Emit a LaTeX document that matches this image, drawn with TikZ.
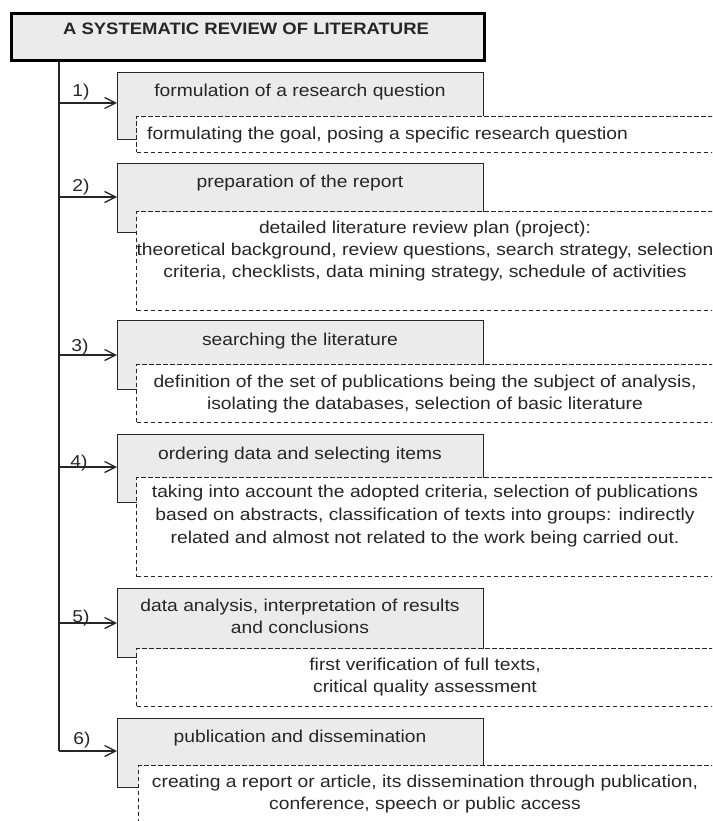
\documentclass[tikz,border=0pt]{standalone}
\usepackage{fontspec}
\setmainfont{Liberation Sans}[FakeStretch=1.12]
\usetikzlibrary{arrows.meta}
\definecolor{boxfill}{RGB}{235,235,235}
\definecolor{ink}{RGB}{38,38,38}

\begin{document}
\begin{tikzpicture}[x=1pt, y=-1pt, >={Straight Barb[length=11pt, width=11pt]},
	every node/.style={inner sep=0pt, text=ink, font=\fontsize{17.2}{22}\selectfont},
	titlebox/.style={draw=black, line width=2.6pt, fill=boxfill, anchor=north west,
		minimum width=473pt, minimum height=47pt},
	stepbox/.style={draw=ink, line width=1.3pt, fill=boxfill, anchor=north west,
		minimum width=366pt},
	notebox/.style={draw=ink, line width=1pt, dash pattern=on 4.5pt off 2.5pt,
		fill=white, anchor=north west, minimum width=620pt},
	link/.style={draw=ink, line width=1.3pt}]
	\def\trunk{59}		% x of the vertical line
	\def\boxl{117}		% left side of the grey boxes
	\def\notel{136}		% left side of the dashed boxes
	\def\midbox{300}	% centre of the grey boxes
	\def\midnote{425}	% centre of the dashed texts
	% (multi-line texts: base = baseline of the last line)

	% Page
	\clip (0,0) rectangle (712,821);

	% Title
	\node[titlebox] (title) at (10,12) {};
	\node[anchor=base, font=\fontsize{16.5}{20}\selectfont\bfseries] (titletext)
		at (246,35) {A SYSTEMATIC REVIEW OF LITERATURE};

	% Step 1
	\node[stepbox, minimum height=67pt] (s1) at (\boxl,72) {};
	\node[notebox, minimum height=36pt] (d1) at (\notel,116) {};
	\node[anchor=base] (s1text) at (\midbox,97) {formulation of a research question};
	\node[anchor=base west] (d1text) at (147,140)
		{formulating the goal, posing a specific research question};

	% Step 2
	\node[stepbox, minimum height=69pt] (s2) at (\boxl,163) {};
	\node[notebox, minimum height=99pt] (d2) at (\notel,211) {};
	\node[anchor=base] (s2text) at (\midbox,188) {preparation of the report};
	\node[anchor=base, align=center] (d2text) at (\midnote,277)
		{detailed literature review plan (project):\\
		theoretical background, review questions, search strategy, selection\\
		criteria, checklists, data mining strategy, schedule of activities};

	% Step 3
	\node[stepbox, minimum height=69pt] (s3) at (\boxl,320) {};
	\node[notebox, minimum height=58pt] (d3) at (\notel,364) {};
	\node[anchor=base] (s3text) at (\midbox,345) {searching the literature};
	\node[anchor=base, align=center] (d3text) at (\midnote,409)
		{definition of the set of publications being the subject of analysis,\\
		isolating the databases, selection of basic literature};

	% Step 4
	\node[stepbox, minimum height=68pt] (s4) at (\boxl,434) {};
	\node[notebox, minimum height=99pt] (d4) at (\notel,477) {};
	\node[anchor=base] (s4text) at (\midbox,459) {ordering data and selecting items};
	\node[anchor=base, align=center, font=\fontsize{17.2}{23}\selectfont] (d4text)
		at (\midnote,543)
		{taking into account the adopted criteria, selection of publications\\
		based on abstracts, classification of texts into groups: indirectly\\
		related and almost not related to the work being carried out.};

	% Step 5
	\node[stepbox, minimum height=69pt] (s5) at (\boxl,588) {};
	\node[notebox, minimum height=58pt] (d5) at (\notel,648) {};
	\node[anchor=base, align=center] (s5text) at (\midbox,633)
		{data analysis, interpretation of results\\ and conclusions};
	\node[anchor=base, align=center] (d5text) at (\midnote,692)
		{first verification of full texts,\\ critical quality assessment};

	% Step 6
	\node[stepbox, minimum height=69pt] (s6) at (\boxl,718) {};
	\node[notebox, minimum height=100pt] (d6) at (138,765) {};
	\node[anchor=base] (s6text) at (\midbox,742) {publication and dissemination};
	\node[anchor=base, align=center] (d6text) at (\midnote,809)
		{creating a report or article, its dissemination through publication,\\
		conference, speech or public access};

	% Vertical line and arrows
	\coordinate (a1) at (\trunk,103);
	\coordinate (a2) at (\trunk,197);
	\coordinate (a3) at (\trunk,355);
	\coordinate (a4) at (\trunk,467);
	\coordinate (a5) at (\trunk,623);
	\coordinate (a6) at (\trunk,751);
	\draw[link] (title.south -| a1) -- (a6);
	\draw[link, ->] (a1) -- (a1 -| s1.west);
	\draw[link, ->] (a2) -- (a2 -| s2.west);
	\draw[link, ->] (a3) -- (a3 -| s3.west);
	\draw[link, ->] (a4) -- (a4 -| s4.west);
	\draw[link, ->] (a5) -- (a5 -| s5.west);
	\draw[link, ->] (a6) -- (a6 -| s6.west);

	% Numbers
	\node[anchor=base] (n1) at (81,97) {1)};
	\node[anchor=base] (n2) at (81,192) {2)};
	\node[anchor=base] (n3) at (80,351) {3)};
	\node[anchor=base] (n4) at (79,467) {4)};
	\node[anchor=base] (n5) at (81,622) {5)};
	\node[anchor=base] (n6) at (82,744) {6)};
\end{tikzpicture}
\end{document}
